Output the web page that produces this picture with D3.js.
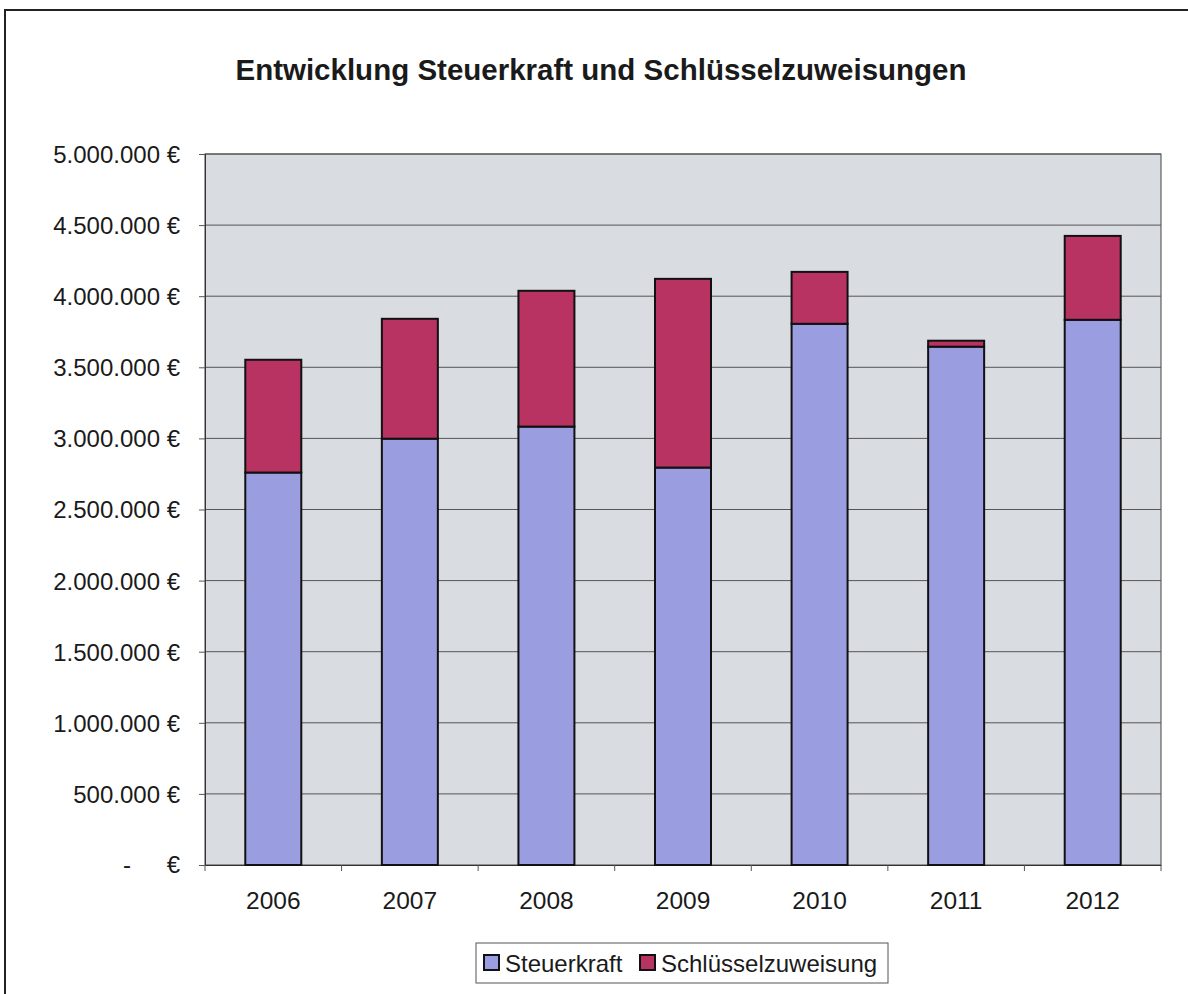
<!DOCTYPE html>
<html>
<head>
<meta charset="utf-8">
<script src="https://cdn.jsdelivr.net/npm/d3@7"></script>
<style>
  body { margin: 0; background: #fff; }
  text { font-family: "Liberation Sans", Arial, sans-serif; fill: #1a1a1a; }
</style>
</head>
<body>
<script>
var jahre = ["2006", "2007", "2008", "2009", "2010", "2011", "2012"];
var steuerkraft = [2760000, 2998000, 3083000, 2795000, 3806000, 3645000, 3834000];
var schluessel = [793000, 843000, 955000, 1327000, 365000, 42000, 590000];
var yTicks = [0, 500000, 1000000, 1500000, 2000000, 2500000, 3000000, 3500000, 4000000, 4500000, 5000000];
var serien = ["Steuerkraft", "Schlüsselzuweisung"];
var farben = ["#9a9de0", "#b83262"];

var width = 1188, height = 994;
var m = {left: 205, right: 1161, top: 154, bottom: 865};

var svg = d3.select("body").append("svg")
    .attr("width", width)
    .attr("height", height);

// aeusserer Rahmen
svg.append("path")
    .attr("d", "M5," + height + "V10H" + width)
    .attr("fill", "none")
    .attr("stroke", "#222")
    .attr("stroke-width", 2);

svg.append("text")
    .attr("x", 601).attr("y", 80)
    .attr("text-anchor", "middle")
    .style("font-size", "29.5px")
    .style("font-weight", "bold")
    .text("Entwicklung Steuerkraft und Schlüsselzuweisungen");

var x = d3.scaleBand().domain(jahre).range([m.left, m.right]).paddingInner(0.59).paddingOuter(0.295);
var y = d3.scaleLinear().domain([0, 5000000]).range([m.bottom, m.top]);

svg.append("rect")
    .attr("x", m.left).attr("y", m.top)
    .attr("width", m.right - m.left).attr("height", m.bottom - m.top)
    .attr("fill", "#d9dce0")
    .attr("stroke", "#444");

// Gitterlinien
svg.append("g").selectAll("line")
    .data(yTicks.slice(1))
    .join("line")
    .attr("x1", m.left).attr("x2", m.right)
    .attr("y1", d => y(d)).attr("y2", d => y(d))
    .attr("stroke", "#555").attr("stroke-width", 1);

var fmt = d3.formatLocale({decimal: ",", thousands: ".", grouping: [3], currency: ["", " €"]}).format(",.0f");

var yAxis = svg.append("g")
    .attr("transform", "translate(" + m.left + ",0)")
    .call(d3.axisLeft(y).tickValues(yTicks).tickSize(6).tickFormat(d => d === 0 ? "" : fmt(d) + " €"));
yAxis.select(".domain").attr("stroke", "#333");
yAxis.selectAll(".tick line").attr("stroke", "#555");
yAxis.selectAll("text").style("font-size", "24px").attr("x", -25).attr("dy", "0.35em").attr("fill", "#1a1a1a");

// Null-Label im Buchhaltungsformat
svg.append("text").attr("x", 127).attr("y", y(0)).attr("dy", "0.35em")
    .attr("text-anchor", "middle").style("font-size", "24px").text("-");
svg.append("text").attr("x", 180).attr("y", y(0)).attr("dy", "0.35em")
    .attr("text-anchor", "end").style("font-size", "24px").text("€");

var xAxis = svg.append("g")
    .attr("transform", "translate(0," + m.bottom + ")")
    .call(d3.axisBottom(x).tickSize(0).tickPadding(27));
xAxis.select(".domain").attr("stroke", "#333");
xAxis.selectAll("text").style("font-size", "24.5px").attr("fill", "#1a1a1a");

// Trennstriche zwischen Kategorien
var step = (m.right - m.left) / jahre.length;
svg.append("g").selectAll("line")
    .data(d3.range(jahre.length + 1))
    .join("line")
    .attr("x1", d => m.left + d * step).attr("x2", d => m.left + d * step)
    .attr("y1", m.bottom).attr("y2", m.bottom + 6)
    .attr("stroke", "#555");

var daten = jahre.map((j, i) => ({jahr: j, Steuerkraft: steuerkraft[i], "Schlüsselzuweisung": schluessel[i]}));
var stack = d3.stack().keys(serien)(daten);

svg.append("g").selectAll("g")
    .data(stack)
    .join("g")
    .attr("fill", (d, i) => farben[i])
    .selectAll("rect")
    .data(d => d)
    .join("rect")
    .attr("x", d => x(d.data.jahr))
    .attr("y", d => y(d[1]))
    .attr("width", x.bandwidth())
    .attr("height", d => y(d[0]) - y(d[1]))
    .attr("stroke", "#111")
    .attr("stroke-width", 2);

// Legende
var lg = svg.append("g").attr("transform", "translate(476,943)");
lg.append("rect").attr("width", 412).attr("height", 40)
    .attr("fill", "#fff").attr("stroke", "#555");
var lx = [8, 164];
serien.forEach(function (s, i) {
    lg.append("rect").attr("x", lx[i]).attr("y", 12).attr("width", 15).attr("height", 15)
        .attr("fill", farben[i]).attr("stroke", "#111").attr("stroke-width", 2);
    lg.append("text").attr("x", lx[i] + 21).attr("y", 29)
        .style("font-size", "24px").text(s);
});
</script>
</body>
</html>
